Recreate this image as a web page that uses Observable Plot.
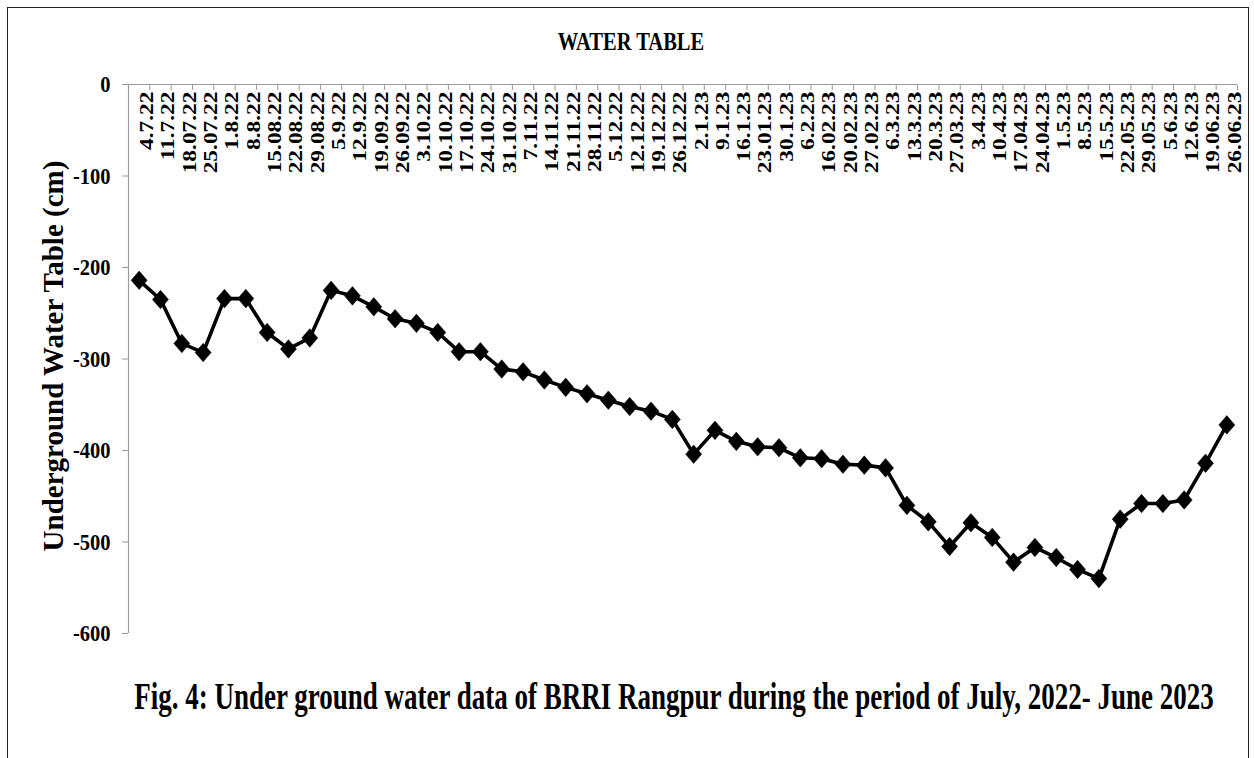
<!DOCTYPE html>
<html>
<head>
<meta charset="utf-8">
<script src="https://cdn.jsdelivr.net/npm/d3@7"></script>
<script src="https://cdn.jsdelivr.net/npm/@observablehq/plot@0.6"></script>
<style>
  html, body { margin: 0; padding: 0; background: #fff; overflow: hidden; }
  #wrap { position: relative; width: 1254px; height: 758px; overflow: hidden; font-family: "Liberation Serif", "Times New Roman", serif; }
  #border { position: absolute; left: 7px; top: 7px; width: 1242px; height: 800px; border: 1px solid #222; box-sizing: border-box; }
  #chart { position: absolute; left: 0; top: 0; }
  .t { position: absolute; font-weight: bold; color: #000; white-space: nowrap; line-height: 1; }
  #title { left: 0; width: 1262px; text-align: center; top: 29px; font-size: 20.5px; transform: scaleY(1.22); transform-origin: center top; }
  #caption { left: 0; width: 1348px; text-align: center; top: 679px; font-size: 27px; transform: scaleY(1.38); transform-origin: center top; }
  #ylabel { left: 53px; top: 356px; font-size: 29px; transform: translate(-50%, -50%) rotate(-90deg); }
</style>
</head>
<body>
<div id="wrap">
  <div id="border"></div>
  <div id="chart"></div>
  <div id="title" class="t">WATER TABLE</div>
  <div id="ylabel" class="t">Underground Water Table (cm)</div>
  <div id="caption" class="t">Fig. 4: Under ground water data of BRRI Rangpur during the period of July, 2022- June 2023</div>
</div>
<script>
const dates = [
  "4.7.22","11.7.22","18.07.22","25.07.22","1.8.22","8.8.22","15.08.22","22.08.22","29.08.22",
  "5.9.22","12.9.22","19.09.22","26.09.22","3.10.22","10.10.22","17.10.22","24.10.22","31.10.22",
  "7.11.22","14.11.22","21.11.22","28.11.22","5.12.22","12.12.22","19.12.22","26.12.22",
  "2.1.23","9.1.23","16.1.23","23.01.23","30.1.23","6.2.23","16.02.23","20.02.23","27.02.23",
  "6.3.23","13.3.23","20.3.23","27.03.23","3.4.23","10.4.23","17.04.23","24.04.23",
  "1.5.23","8.5.23","15.5.23","22.05.23","29.05.23","5.6.23","12.6.23","19.06.23","26.06.23"
];
const waterTable = [
  -214,-235,-283,-293,-234,-234,-271,-289,-277,
  -225,-231,-243,-256,-261,-271,-292,-292,-311,
  -314,-323,-331,-338,-345,-352,-357,-366,
  -404,-378,-390,-396,-397,-408,-409,-415,-416,
  -419,-460,-478,-505,-479,-495,-522,-506,
  -517,-530,-540,-475,-458,-458,-454,-414,-372
];
const yTicks = [0, -100, -200, -300, -400, -500, -600];

const rows = dates.map((d, i) => ({idx: i + 0.5, date: d, value: waterTable[i]}));
const boundaries = d3.range(dates.length + 1);

const plot = Plot.plot({
  width: 1254,
  height: 650,
  marginLeft: 128,
  marginRight: 17,
  marginTop: 84,
  marginBottom: 17,
  style: {fontFamily: "'Liberation Serif', 'Times New Roman', serif", background: "transparent", overflow: "visible"},
  x: {type: "linear", domain: [0, dates.length], axis: null},
  y: {domain: [-600, 0], axis: null},
  marks: [
    Plot.ruleX([0], {stroke: "#9a9a9a", strokeWidth: 1.2}),
    Plot.ruleY([0], {stroke: "#9a9a9a", strokeWidth: 1.2}),
    Plot.axisY({ticks: yTicks, anchor: "left", tickSize: 6, tickPadding: 12, stroke: "#9a9a9a", fill: "#000",
      fontSize: 20.5, fontWeight: "bold", tickFormat: d => String(d), label: null, className: "ylab"}),
    Plot.axisX({ticks: boundaries, anchor: "top", tickSize: -5, stroke: "#9a9a9a", tickFormat: () => "", label: null}),
    Plot.text(rows, {x: "idx", text: "date", frameAnchor: "top", rotate: -90, textAnchor: "end", dy: 7,
      fontSize: 19.5, fontWeight: "bold", fill: "#000", className: "xlab"}),
    Plot.line(rows, {x: "idx", y: "value", stroke: "#000", strokeWidth: 3.6}),
    Plot.dot(rows, {x: "idx", y: "value", symbol: "diamond2", r: 7.6, fill: "#000", stroke: "#000", strokeWidth: 0.5})
  ]
});
document.getElementById("chart").appendChild(plot);

// stretch glyphs vertically to mimic the reference's aspect
plot.querySelectorAll(".xlab text").forEach(t => {
  t.setAttribute("transform", (t.getAttribute("transform") || "") + " scale(1.2,1)");
});
plot.querySelectorAll(".ylab text").forEach(t => {
  t.setAttribute("transform", (t.getAttribute("transform") || "") + " scale(1,1.17)");
});
// slightly taller diamonds, as in the reference
plot.querySelectorAll("g[aria-label='dot'] path").forEach(p => {
  p.setAttribute("transform", (p.getAttribute("transform") || "") + " scale(0.95,1.1)");
});
</script>
</body>
</html>
